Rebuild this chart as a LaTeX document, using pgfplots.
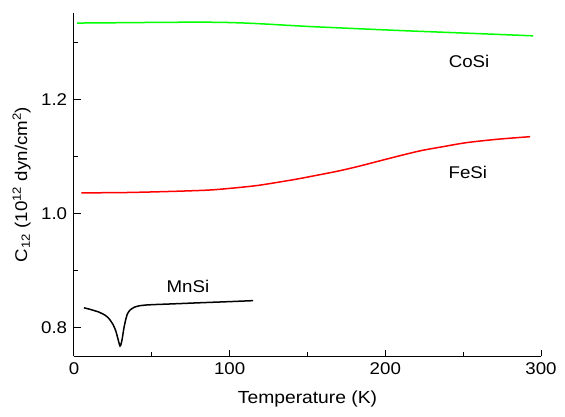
\documentclass[border=0pt]{standalone}
\usepackage{fontspec}
\setmainfont[FakeStretch=1.1]{Liberation Sans}
\usepackage{pgfplots}
\pgfplotsset{compat=1.18}
\begin{document}
\fontsize{17}{20}\selectfont
\begin{tikzpicture}
\useasboundingbox (-74pt,-60pt) rectangle (491pt,356pt);
\begin{axis}[
  scale only axis, width=467pt, height=343pt,
  xmin=0, xmax=300, ymin=0.7506, ymax=1.351,
  axis x line*=bottom, axis y line*=left,
  axis line style={line width=1pt, -},
  tick align=inside,
  major tick length=6.5pt, minor tick length=4pt,
  every tick/.style={line width=1pt, black},
  xtick={0,100,200,300}, minor xtick={50,150,250},
  ytick={0.8,1.0,1.2}, minor ytick={0.9,1.1,1.3},
  /pgf/number format/assume math mode=true,
  yticklabel style={/pgf/number format/fixed, /pgf/number format/fixed zerofill, /pgf/number format/precision=1, xshift=-1pt},
  xticklabel style={yshift=-1pt},
  xlabel={Temperature (K)},
  ylabel={C\textsubscript{12} (10\textsuperscript{12} dyn/cm\textsuperscript{2})},
  xlabel style={at={(axis description cs:0.5,-0.085)}, anchor=north, font=\fontsize{17.5}{20}\selectfont},
  ylabel style={at={(axis description cs:-0.08,0.5)}, anchor=south},
  clip=false,
]
\addplot[line width=1.5pt, color={rgb,255:red,0;green,255;blue,0}, smooth] coordinates {
(2,1.3334)(30,1.3340)(60,1.3347)(80,1.3349)(95,1.3346)(110,1.3334)(125,1.3314)(140,1.3290)(154,1.3270)(180,1.3238)(209.5,1.3203)(240,1.3170)(270,1.3138)(295,1.3110)
};
\addplot[line width=1.5pt, color={rgb,255:red,255;green,0;blue,0}, smooth] coordinates {
(4.7,1.0362)(32,1.0367)(60,1.0385)(85.5,1.0409)(100,1.0440)(117.6,1.0490)(135,1.0565)(145,1.0612)(154,1.0659)(170,1.0745)(183.8,1.0833)(203,1.0968)(222,1.1095)(237,1.1170)(252,1.1240)(272,1.1300)(293,1.1345)
};
\addplot[line width=1.5pt, black, smooth, tension=0.4] coordinates {
(6.4,0.8350)(10,0.8325)(16,0.8275)(20,0.8220)(22.5,0.8160)(25,0.8060)(26.8,0.7950)(28,0.7830)(29.6,0.7680)(30.8,0.7780)(32.1,0.8000)(33.2,0.8140)(34.3,0.8243)(36,0.8310)(38.6,0.8358)(42,0.8385)(47,0.8400)(55,0.8410)(62,0.8417)(80,0.8437)(100,0.8458)(115,0.8475)
};
\node at (axis cs:253.8,1.2667) {CoSi};
\node at (axis cs:253,1.0728) {FeSi};
\node at (axis cs:73.2,0.872) {MnSi};
\end{axis}
\end{tikzpicture}
\end{document}
